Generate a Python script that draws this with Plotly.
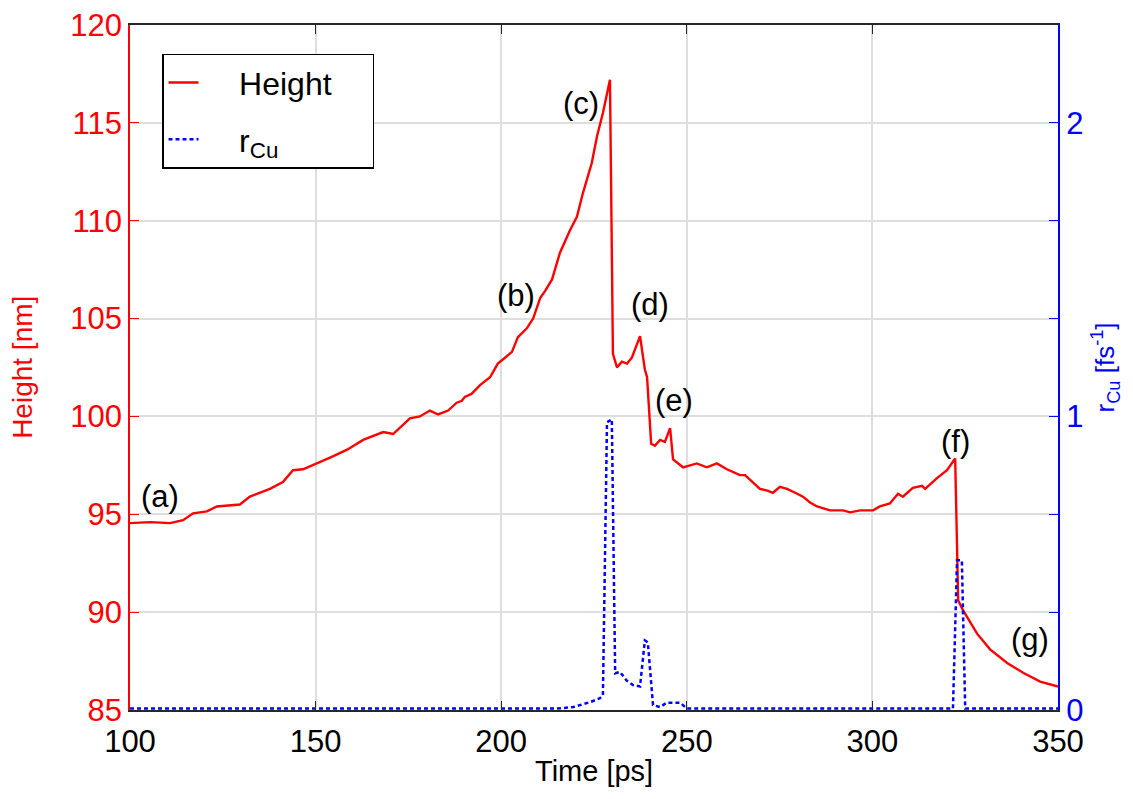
import plotly.graph_objects as go

# Height curve (time in ps, height in nm)
time_h = [100, 105.4, 110.8, 114.3, 117, 120.7, 123.4, 129.6, 132.3, 137.7, 141.2, 143.9, 146.6,
          150.4, 153.9, 158.5, 162.8, 168.2, 170.9, 175.4, 178.1, 180.8, 183, 185.7, 188, 189.4,
          190.2, 192, 194.3, 197, 199.1, 201, 202.9, 204.5, 206.9, 208.6, 210.5, 211.8, 213.7,
          215.8, 218.5, 220.4, 222, 224.4, 225.8, 227.4, 229.3,
          230.1, 231.2, 232.5, 233.9, 235.2, 237.4, 238.7, 239.3, 240.4, 241.4, 242.8, 244.1,
          245.5, 246.3, 249, 252.7, 255.4, 258.1, 260.8, 264.3, 265.7, 267.8, 269.7, 271.9,
          273.2, 275.1, 277, 279.2, 281.3, 283.2, 285.1, 288.6, 292.1, 294, 296.7, 300.2, 302,
          304.7, 306.9, 308.2, 310.9, 313.4, 314.2, 317.4, 320.1, 322.3,
          322.8, 323.1, 324.4, 328.2, 331.7, 336.3, 340.6, 345.2, 350]
height = [94.55, 94.6, 94.55, 94.7, 95.05, 95.15, 95.4, 95.5, 95.9, 96.3, 96.65, 97.25, 97.3,
          97.6, 97.9, 98.3, 98.8, 99.2, 99.1, 99.9, 100.0, 100.3, 100.1, 100.3, 100.7, 100.8,
          101.0, 101.15, 101.6, 102.0, 102.7, 103.0, 103.3, 104.05, 104.5, 105.0, 106.05, 106.4, 107.0,
          108.35, 109.5, 110.2, 111.4, 112.95, 114.3, 115.5, 117.2,
          103.2, 102.5, 102.8, 102.7, 103.0, 104.1, 102.4, 102.0, 98.6, 98.5, 98.8, 98.7,
          99.4, 97.8, 97.4, 97.6, 97.4, 97.6, 97.3, 97.0, 97.0, 96.65, 96.3, 96.2,
          96.1, 96.4, 96.3, 96.1, 95.9, 95.6, 95.4, 95.2, 95.2, 95.1, 95.2, 95.2, 95.4,
          95.55, 96.05, 95.9, 96.35, 96.45, 96.3, 96.85, 97.25, 97.85,
          92.7, 90.6, 90.1, 88.9, 88.1, 87.4, 86.9, 86.45, 86.2]

# r_Cu curve (time in ps, rate in fs^-1)
time_r = [100, 215, 219.4, 224, 226.6, 227.4, 228.5, 229.8, 230.7, 232, 233.8, 235.5, 237.4,
          238.7, 239.5, 240.9, 242.8, 244.6, 248.2, 250, 321.7, 322.8, 324.1, 325, 350]
rate = [0.005, 0.005, 0.01, 0.027, 0.04, 0.05, 0.98, 0.99, 0.125, 0.13, 0.1, 0.085, 0.08,
        0.237, 0.23, 0.017, 0.01, 0.025, 0.025, 0.005, 0.005, 0.51, 0.51, 0.005, 0.005]

# Point labels
label_text = ["(a)", "(b)", "(c)", "(d)", "(e)", "(f)", "(g)"]
label_t = [108, 204, 221.5, 240, 246.5, 322.5, 342.5]
label_h = [95.9, 106.2, 116.0, 105.7, 100.8, 98.7, 88.6]

x_ticks = [100, 150, 200, 250, 300, 350]
y_ticks = [85, 90, 95, 100, 105, 110, 115, 120]
y2_ticks = [0, 1/3, 2/3, 1, 4/3, 5/3, 2, 7/3]
y2_text = ["0", "", "", "1", "", "", "2", ""]

FONT = "Liberation Sans, Arial, Helvetica, sans-serif"
NB = "\u00a0"

fig = go.Figure()
fig.add_trace(go.Scatter(x=time_h, y=height, mode="lines", name=NB * 4 + "Height" + NB * 4,
                         legendgroup="g1", line=dict(color="#ff0000", width=2.4)))
fig.add_trace(go.Scatter(x=time_r, y=rate, mode="lines", name=NB * 4 + "r<sub>Cu</sub>",
                         yaxis="y2", legendgroup="g2",
                         line=dict(color="#0000ff", width=2.5, dash="4px,3px")))

for txt, tx, hy in zip(label_text, label_t, label_h):
    fig.add_annotation(x=tx, y=hy, text=txt, showarrow=False, xref="x", yref="y",
                       xanchor="center", yanchor="middle",
                       font=dict(size=31, color="#000000", family=FONT))

# axis titles as annotations for exact placement
fig.add_annotation(x=-0.116, y=0.5, xref="paper", yref="paper", text="Height [nm]",
                   textangle=-90, showarrow=False, xanchor="center", yanchor="middle",
                   font=dict(size=28, color="#ff0000", family=FONT))
fig.add_annotation(x=1.0506, y=0.5, xref="paper", yref="paper",
                   text="r<sub>Cu</sub> [fs<sup>-1</sup>]", textangle=-90, showarrow=False,
                   xanchor="center", yanchor="middle",
                   font=dict(size=26, color="#0000ff", family=FONT))
fig.add_annotation(x=0.5, y=-0.089, xref="paper", yref="paper", text="Time [ps]",
                   showarrow=False, xanchor="center", yanchor="middle",
                   font=dict(size=29, color="#000000", family=FONT))

fig.update_layout(
    width=1117, height=783,
    margin=dict(l=122, r=67, t=17, b=81, autoexpand=False),
    paper_bgcolor="white", plot_bgcolor="white",
    font=dict(family=FONT, size=30, color="#000000"),
    showlegend=True,
    legend=dict(x=0.0345, y=0.958, xanchor="left", yanchor="top",
                bgcolor="white", bordercolor="#000000", borderwidth=1.5,
                font=dict(size=32, family=FONT, color="#000000"),
                tracegroupgap=12, traceorder="grouped"),
    xaxis=dict(range=[100, 350], tickvals=x_ticks, ticks="inside", ticklen=9,
               tickcolor="#262626", showline=True, linecolor="#262626", linewidth=1.5,
               mirror="ticks", showgrid=True, gridcolor="#dedede", gridwidth=1.5,
               zeroline=False, automargin=False, ticklabeloverflow="allow",
               ticklabelstandoff=3,
               tickfont=dict(size=31, color="#000000")),
    yaxis=dict(range=[85, 120], tickvals=y_ticks, ticks="inside", ticklen=9,
               tickcolor="#ff0000", showline=True, linecolor="#ff0000", linewidth=1.8,
               showgrid=True, gridcolor="#dedede", gridwidth=1.5, zeroline=False,
               automargin=False, ticklabeloverflow="allow",
               tickfont=dict(size=31, color="#ff0000")),
    yaxis2=dict(range=[0, 7/3], tickvals=y2_ticks, ticktext=y2_text, overlaying="y",
                side="right", ticks="inside", ticklen=9, tickcolor="#0000ff",
                showline=True, linecolor="#0000ff", linewidth=2.2, showgrid=False,
                zeroline=False, automargin=False, ticklabeloverflow="allow",
                tickfont=dict(size=31, color="#0000ff")),
)

fig.write_html("out.html")
